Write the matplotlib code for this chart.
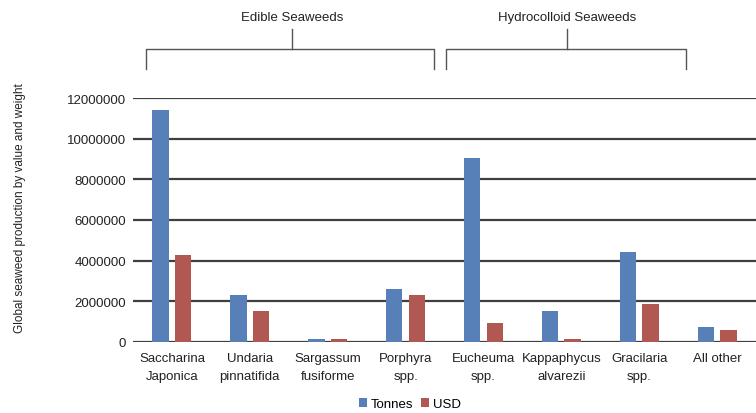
import numpy as np
import matplotlib
matplotlib.use('Agg')
import matplotlib.pyplot as plt
from matplotlib.lines import Line2D

plt.rcParams['font.family'] = ['Liberation Sans', 'DejaVu Sans']

species = ['Saccharina\nJaponica', 'Undaria\npinnatifida', 'Sargassum\nfusiforme',
           'Porphyra\nspp.', 'Eucheuma\nspp.', 'Kappaphycus\nalvarezii',
           'Gracilaria\nspp.', 'All other']
tonnes = [11430000, 2330000, 160000, 2620000, 9060000, 1540000, 4440000, 750000]
usd = [4290000, 1540000, 160000, 2330000, 950000, 160000, 1890000, 600000]
yticks = [0, 2000000, 4000000, 6000000, 8000000, 10000000, 12000000]
groups = ['Edible Seaweeds', 'Hydrocolloid Seaweeds']

W, H = 756, 414
fig = plt.figure(figsize=(W / 100, H / 100), dpi=100)
ax = fig.add_axes([133 / W, 1 - 343 / H, 623 / W, 244 / H])

x = np.arange(len(species))
bw = 0.21
ax.bar(x - 0.145, tonnes, bw, color='#5880b8', label='Tonnes', zorder=3)
ax.bar(x + 0.145, usd, bw, color='#b25852', label='USD', zorder=3)

ax.set_xlim(-0.5, len(species) - 0.5)
ax.set_ylim(0, 12000000)
ax.set_yticks(yticks)
ax.set_yticklabels([str(v) for v in yticks], fontsize=9.5, color='#222222')
ax.set_xticks(x)
ax.set_xticklabels(species, fontsize=9.5, color='#222222', linespacing=1.65)
ax.tick_params(axis='both', length=0)
ax.tick_params(axis='y', pad=5)
ax.tick_params(axis='x', pad=7)
ax.yaxis.grid(True, color='#404040', linewidth=1.6, zorder=0)
ax.set_axisbelow(True)
for s in ax.spines.values():
    s.set_visible(False)

fig.text(20 / W, 1 - 208 / H, 'Global seaweed production by value and weight',
         rotation=90, ha='center', va='center', fontsize=8.5, color='#222222')

# group brackets above the plot
def bracket(x0, x1, xm, label):
    tf = fig.transFigure
    kw = dict(color='#555555', linewidth=1.0, transform=tf)
    fig.add_artist(Line2D([x0 / W, x0 / W, x1 / W, x1 / W],
                          [1 - 70 / H, 1 - 50 / H, 1 - 50 / H, 1 - 70 / H], **kw))
    fig.add_artist(Line2D([xm / W, xm / W], [1 - 50 / H, 1 - 30 / H], **kw))
    fig.text(xm / W, 1 - 18 / H, label, ha='center', va='center', fontsize=9.5,
             color='#222222')

bracket(146, 434, 292, groups[0])
bracket(446, 686, 567, groups[1])

fig.legend(loc='center', bbox_to_anchor=(410 / W, 1 - 405 / H), ncol=2,
           frameon=False, fontsize=9.5, handlelength=0.6, handleheight=0.6,
           handletextpad=0.3, columnspacing=0.6)

fig.savefig('out.png', dpi=100)
